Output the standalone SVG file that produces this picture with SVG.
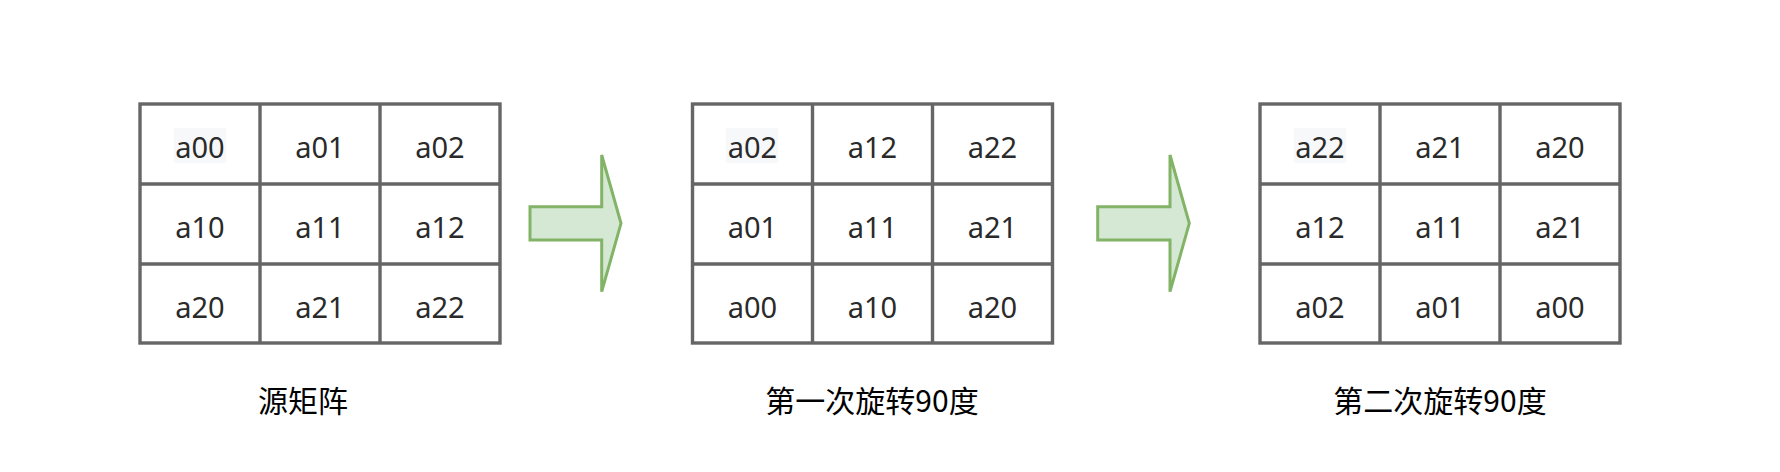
<svg xmlns="http://www.w3.org/2000/svg" width="1780" height="472" viewBox="0 0 1780 472">
<style>
.grid{fill:#ffffff;stroke:#666666;stroke-width:3.4}
.gl{stroke:#666666;stroke-width:3.4;fill:none}
.hl{fill:#f6f8fa}
.cell{font-family:"Noto Sans","DejaVu Sans",sans-serif;font-size:29px;fill:#2a2a2a;text-anchor:middle}
.lbl{font-family:"Noto Sans CJK SC","Noto Sans",sans-serif;font-size:30px;fill:#000000;text-anchor:middle}
.arrow{fill:#d5e8d4;stroke:#82b366;stroke-width:3;stroke-linejoin:miter}
</style>
<rect width="1780" height="472" fill="#ffffff"/>
<g id="matrix-source">
<rect class="grid" x="140" y="104" width="360" height="239"/>
<path class="gl" d="M260 104V343M380 104V343M140 184H500M140 264H500"/>
<rect class="hl" x="174" y="128" width="52" height="35"/>
<text class="cell" x="200" y="158">a00</text>
<text class="cell" x="320" y="158">a01</text>
<text class="cell" x="440" y="158">a02</text>
<text class="cell" x="200" y="238">a10</text>
<text class="cell" x="320" y="238">a11</text>
<text class="cell" x="440" y="238">a12</text>
<text class="cell" x="200" y="318">a20</text>
<text class="cell" x="320" y="318">a21</text>
<text class="cell" x="440" y="318">a22</text>
<text class="lbl" x="303" y="412">源矩阵</text>
</g>
<g id="matrix-rot1">
<rect class="grid" x="692.5" y="104" width="360" height="239"/>
<path class="gl" d="M812.5 104V343M932.5 104V343M692.5 184H1052.5M692.5 264H1052.5"/>
<rect class="hl" x="726" y="128" width="52" height="35"/>
<text class="cell" x="752.5" y="158">a02</text>
<text class="cell" x="872.5" y="158">a12</text>
<text class="cell" x="992.5" y="158">a22</text>
<text class="cell" x="752.5" y="238">a01</text>
<text class="cell" x="872.5" y="238">a11</text>
<text class="cell" x="992.5" y="238">a21</text>
<text class="cell" x="752.5" y="318">a00</text>
<text class="cell" x="872.5" y="318">a10</text>
<text class="cell" x="992.5" y="318">a20</text>
<text class="lbl" x="872" y="412">第一次旋转90度</text>
</g>
<g id="matrix-rot2">
<rect class="grid" x="1260" y="104" width="360" height="239"/>
<path class="gl" d="M1380 104V343M1500 104V343M1260 184H1620M1260 264H1620"/>
<rect class="hl" x="1294" y="128" width="52" height="35"/>
<text class="cell" x="1320" y="158">a22</text>
<text class="cell" x="1440" y="158">a21</text>
<text class="cell" x="1560" y="158">a20</text>
<text class="cell" x="1320" y="238">a12</text>
<text class="cell" x="1440" y="238">a11</text>
<text class="cell" x="1560" y="238">a21</text>
<text class="cell" x="1320" y="318">a02</text>
<text class="cell" x="1440" y="318">a01</text>
<text class="cell" x="1560" y="318">a00</text>
<text class="lbl" x="1440" y="412">第二次旋转90度</text>
</g>
<g id="connectors">
<polygon class="arrow" points="530,206.7 601.7,206.7 601.7,155 621,223.3 601.7,291.7 601.7,240 530,240"/>
<polygon class="arrow" points="1097.7,206.7 1170,206.7 1170,155 1189.3,223.3 1170,291.7 1170,240 1097.7,240"/>
</g>
</svg>
